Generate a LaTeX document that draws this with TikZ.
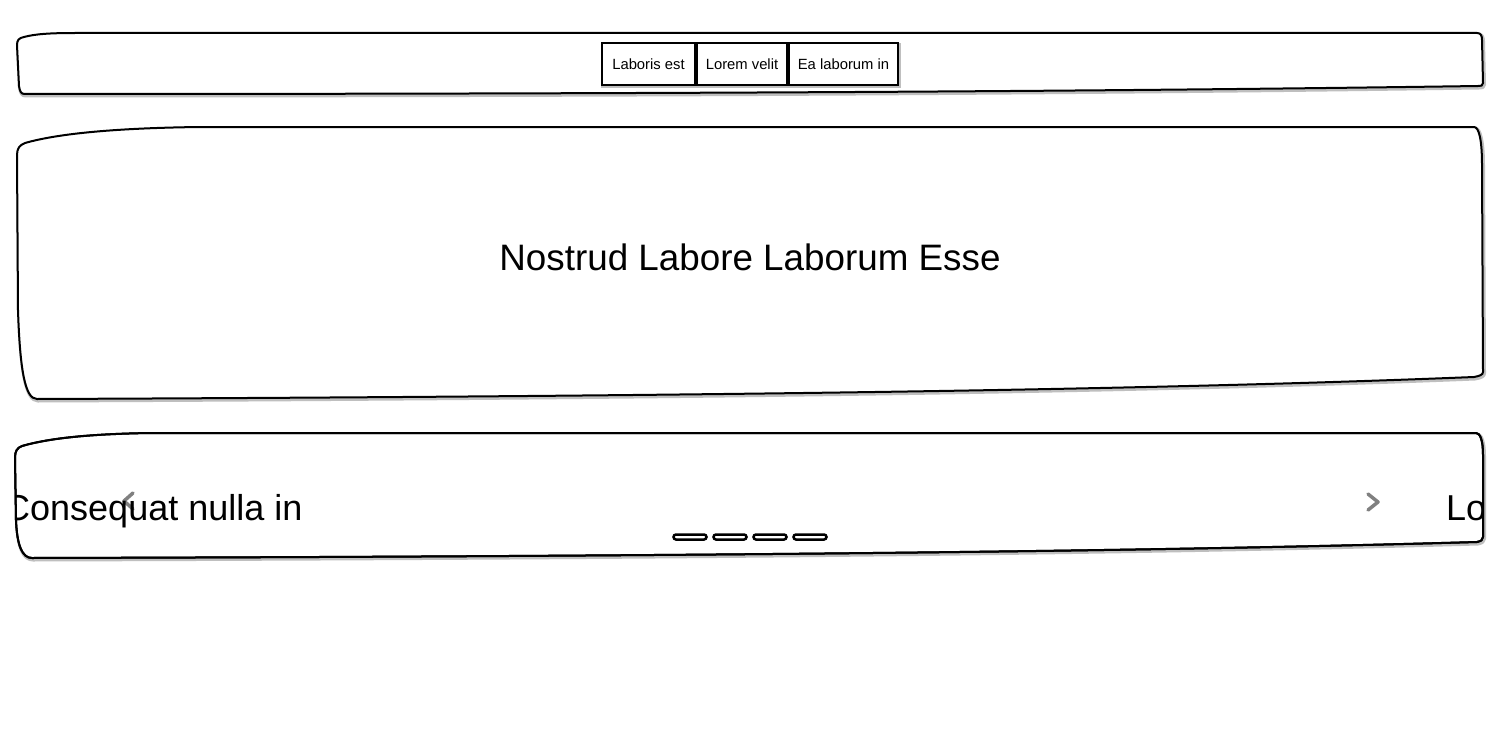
\documentclass[tikz,border=0pt]{standalone}
\usepackage{fontspec}
\setmainfont{Liberation Sans}
\begin{document}
\begin{tikzpicture}[x=1pt,y=-1pt,
  outline/.style={draw=black,line width=2pt,line join=round,fill=white},
  halo/.style={draw=black!25,line width=4pt,line join=round},
  navbtn/.style={draw=black,line width=2pt,fill=white,inner sep=0pt,minimum height=42pt,font=\fontsize{14.8}{16}\selectfont,text=black,
    preaction={draw=black!25,line width=3.5pt,transform canvas={shift={(1pt,-1.5pt)}}}},
  bigtext/.style={font=\fontsize{36.8}{40}\selectfont,text=black,anchor=base,inner sep=0pt},
  chev/.style={draw=black!50,line width=3.5pt,line cap=round,line join=round},
  dotind/.style={draw=black,line width=2.5pt,fill=white,rounded corners=2.5pt,minimum width=33pt,minimum height=5pt,inner sep=0pt}
]
\useasboundingbox (0,0) rectangle (1500,752);
\fill[white] (0,0) rectangle (1500,752);

% box 1 (navigation bar)
\def\boxone{(17,45) .. controls (17,40) and (19,38) .. (24,37) .. controls (35,34) and (50,33) .. (75,33) -- (1477,33) .. controls (1481,33) and (1482,36) .. (1482,40) -- (1483,83) .. controls (1483,86) and (1481,86) .. (1478,86) .. controls (1200,90) and (800,94) .. (25,94) .. controls (21,94) and (20,92) .. (19,86) -- cycle}
\draw[halo] [shift={(1,1.5)}] \boxone;
\path[outline] \boxone;

% box 2 (hero)
\def\boxtwo{(17,155) .. controls (17,148) and (20,145) .. (25,143) .. controls (60,133) and (120,128) .. (200,127) -- (1474,127) .. controls (1479,127) and (1482,140) .. (1482,165) -- (1483,372) .. controls (1483,375) and (1479,376) .. (1474,377) .. controls (1200,388) and (800,396) .. (37,399) .. controls (25,399) and (20,370) .. (18,310) -- cycle}
\draw[halo] [shift={(1,1.5)}] \boxtwo;
\path[outline] \boxtwo;

% box 3 (carousel)
\def\boxthree{(15,458) .. controls (15,451) and (17,448) .. (22,446) .. controls (50,438) and (90,434) .. (150,433) -- (1476,433) .. controls (1480,433) and (1483,440) .. (1483,455) -- (1483,537) .. controls (1483,540) and (1481,541) .. (1477,542) .. controls (1200,550) and (800,556) .. (32,558) .. controls (22,558) and (17,545) .. (16,520) -- cycle}
\draw[halo] [shift={(1,1.5)}] \boxthree;
\path[outline] \boxthree;

% nav buttons
\node[navbtn,minimum width=93pt] (b1) at (648.5,64) {Laboris est};
\node[navbtn,minimum width=90pt] (b2) at (742,64) {Lorem velit};
\node[navbtn,minimum width=109pt] (b3) at (843.5,64) {Ea laborum in};

% hero title
\node[bigtext] (hero) at (750,270) {Nostrud Labore Laborum Esse};

% carousel content
\coordinate (lt) at (133,493);
\coordinate (lm) at (124,501);
\coordinate (lb) at (133,509);
\coordinate (rt) at (1368,494);
\coordinate (rm) at (1378,502);
\coordinate (rb) at (1368,510);
\draw[chev] (lt) -- (lm) -- (lb);
\draw[chev] (rt) -- (rm) -- (rb);
\begin{scope}
  \clip \boxthree;
  \node[bigtext,anchor=base west,font=\fontsize{36}{40}\selectfont] (slide1) at (4,520) {Consequat nulla in};
  \node[bigtext,anchor=base west,font=\fontsize{36}{40}\selectfont] (slide2) at (1446,520) {Lo};
\end{scope}
\draw[line width=2pt,line join=round] \boxthree;

% indicators
\node[dotind] (d1) at (690,537) {};
\node[dotind] (d2) at (730,537) {};
\node[dotind] (d3) at (770,537) {};
\node[dotind] (d4) at (810,537) {};
\end{tikzpicture}
\end{document}
